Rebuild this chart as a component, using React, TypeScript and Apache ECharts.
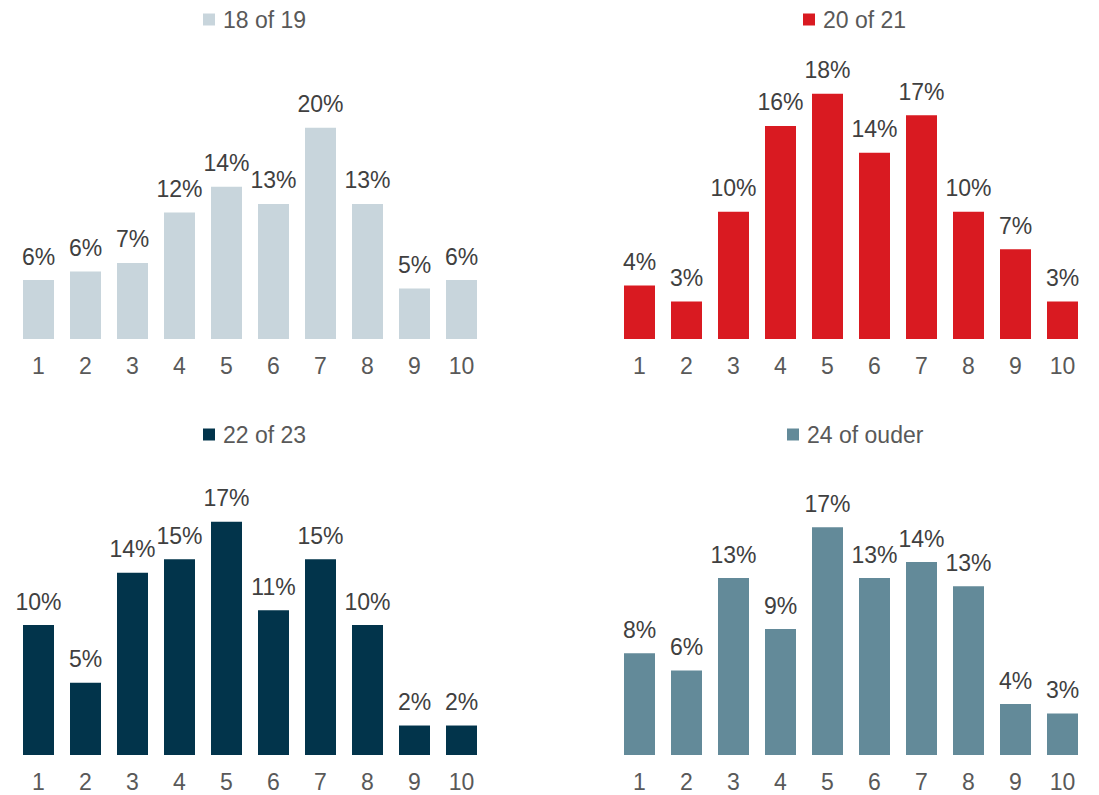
import React, { useEffect, useRef } from "react";
import * as echarts from "echarts";

const categories = ["1", "2", "3", "4", "5", "6", "7", "8", "9", "10"];
const names = ["18 of 19", "20 of 21", "22 of 23", "24 of ouder"];
const values18 = [5.5, 6.3, 7.1, 11.8, 14.2, 12.6, 19.7, 12.6, 4.7, 5.5];
const values20 = [4.0, 2.8, 9.5, 15.9, 18.3, 13.9, 16.7, 9.5, 6.7, 2.8];
const values22 = [9.7, 5.4, 13.6, 14.6, 17.4, 10.8, 14.6, 9.7, 2.2, 2.2];
const values24 = [7.6, 6.3, 13.2, 9.4, 17.0, 13.2, 14.4, 12.6, 3.8, 3.1];
const colors = ["#C8D5DC", "#D91A21", "#02344B", "#638A99"];
const yMax = [25, 20, 20, 20];

const FONT = "'Liberation Sans', Arial, sans-serif";

export default function App() {
  const ref = useRef<HTMLDivElement>(null);
  useEffect(() => {
    if (!ref.current) return;
    const chart = echarts.init(ref.current, undefined, { renderer: "svg" });
    const data = [values18, values20, values22, values24];
    const grids = [
      { left: 15, width: 470, top: 71, height: 268 },
      { left: 616, width: 470, top: 71, height: 268 },
      { left: 15, width: 470, top: 487, height: 268 },
      { left: 616, width: 470, top: 487, height: 268 },
    ];
    const legendPos = [
      { left: 203, top: 8 },
      { left: 803, top: 8 },
      { left: 203, top: 423 },
      { left: 787, top: 423 },
    ];
    chart.setOption({
      animation: false,
      textStyle: { fontFamily: FONT },
      grid: grids,
      legend: names.map((n, i) => ({
        data: [n],
        left: legendPos[i].left,
        top: legendPos[i].top,
        padding: 0,
        icon: "rect",
        itemWidth: 12,
        itemHeight: 12,
        textStyle: {
          fontSize: 23,
          color: "#595959",
          fontFamily: FONT,
          padding: [0, 0, 0, 3],
        },
      })),
      xAxis: names.map((_, i) => ({
        type: "category",
        gridIndex: i,
        data: categories,
        axisLine: { show: false },
        axisTick: { show: false },
        axisLabel: { fontSize: 23, color: "#595959", margin: 15, fontFamily: FONT },
      })),
      yAxis: names.map((_, i) => ({
        type: "value",
        gridIndex: i,
        min: 0,
        max: yMax[i],
        show: false,
        splitLine: { show: false },
      })),
      series: names.map((n, i) => ({
        type: "bar",
        name: n,
        xAxisIndex: i,
        yAxisIndex: i,
        data: data[i],
        barWidth: 31,
        itemStyle: { color: colors[i] },
        label: {
          show: true,
          position: "top",
          distance: 12,
          fontSize: 23,
          color: "#404040",
          fontFamily: FONT,
          formatter: (p: any) => Math.round(p.value) + "%",
        },
      })),
    });
    return () => chart.dispose();
  }, []);
  return (
    <div
      ref={ref}
      style={{ position: "fixed", left: 0, top: 0, width: 1099, height: 795, background: "#fff" }}
    />
  );
}
